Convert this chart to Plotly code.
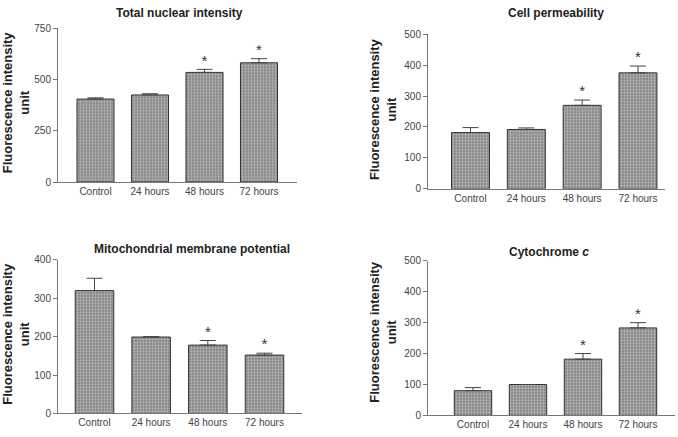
import plotly.graph_objects as go

categories = ["Control", "24 hours", "48 hours", "72 hours"]

nuclear_vals = [405, 425, 535, 582]
nuclear_err = [6, 6, 15, 20]
nuclear_sig = ["", "", "*", "*"]

perm_vals = [182, 192, 270, 375]
perm_err = [16, 5, 17, 22]
perm_sig = ["", "", "*", "*"]

mito_vals = [320, 199, 178, 152]
mito_err = [32, 1, 12, 5]
mito_sig = ["", "", "*", "*"]

cyto_vals = [80, 100, 182, 283]
cyto_err = [10, 0, 18, 17]
cyto_sig = ["", "", "*", "*"]

titles = ["Total nuclear intensity", "Cell permeability",
          "Mitochondrial membrane potential", "Cytochrome <i>c</i>"]
y_title = "Fluorescence intensity<br>unit"

W, H = 678, 437
def px(x):
    return x / W
def py(y):
    return 1 - y / H

panels = [
    dict(vals=nuclear_vals, err=nuclear_err, sig=nuclear_sig,
         xd=(58, 297), yd=(23, 181), yr=750, dt=250, xr=(-0.688, 3.697)),
    dict(vals=perm_vals, err=perm_err, sig=perm_sig,
         xd=(428, 665), yd=(29, 188), yr=500, dt=100, xr=(-0.761, 3.484)),
    dict(vals=mito_vals, err=mito_err, sig=mito_sig,
         xd=(58, 302), yd=(261, 419), yr=400, dt=100, xr=(-0.644, 3.662)),
    dict(vals=cyto_vals, err=cyto_err, sig=cyto_sig,
         xd=(428, 675), yd=(262, 421), yr=500, dt=100, xr=(-0.818, 3.673)),
]

FONT = "Liberation Sans, Arial, sans-serif"
fig = go.Figure()
axis_font = dict(family=FONT, size=10, color="#444")

for i, p in enumerate(panels):
    n = "" if i == 0 else str(i + 1)
    xa, ya = "x" + n, "y" + n
    fig.add_trace(go.Bar(
        x=categories, y=p["vals"], xaxis=xa, yaxis=ya, width=0.68,
        marker=dict(color="#888",
                    line=dict(color="#333", width=1),
                    pattern=dict(shape=".", size=3, solidity=0.5,
                                 fgcolor="#f2f2f2", bgcolor="#7a7a7a")),
        error_y=dict(type="data", symmetric=False, array=p["err"],
                     arrayminus=[0] * 4, color="#444", thickness=1, width=8),
        showlegend=False, hoverinfo="skip"))
    tops = [v + e for v, e in zip(p["vals"], p["err"])]
    fig.add_trace(go.Scatter(
        x=categories, y=tops, xaxis=xa, yaxis=ya, mode="text",
        text=p["sig"], textposition="top center",
        textfont=dict(family=FONT, size=15, color="#333"),
        showlegend=False, hoverinfo="skip"))
    fig.layout["xaxis" + n] = dict(
        domain=[px(p["xd"][0]), px(p["xd"][1])], anchor=ya,
        range=list(p["xr"]), showline=True, linecolor="#777", linewidth=1,
        ticks="", showgrid=False, zeroline=False, tickfont=axis_font, fixedrange=True)
    fig.layout["yaxis" + n] = dict(
        domain=[py(p["yd"][1]), py(p["yd"][0])], anchor=xa,
        range=[0, p["yr"]], dtick=p["dt"], tick0=0, showline=True, linecolor="#777",
        linewidth=1, ticks="outside", ticklen=4, tickcolor="#777", showgrid=False,
        zeroline=False, tickfont=axis_font, fixedrange=True)

title_pos = [(179, 7), (556, 7), (192, 250), (549, 253)]
ytitle_pos = [(16, 99), (383, 106), (16, 337), (383, 335)]
title_font = dict(family=FONT, size=12, color="#222")
for t, (tx, ty), (yx, yy) in zip(titles, title_pos, ytitle_pos):
    fig.add_annotation(text="<b>" + t + "</b>", x=px(tx), y=py(ty), xref="paper",
                       yref="paper", showarrow=False, xanchor="center", yanchor="middle",
                       font=title_font)
    fig.add_annotation(text="<b>" + y_title + "</b>", x=px(yx), y=py(yy), xref="paper",
                       yref="paper", showarrow=False, xanchor="center", yanchor="middle",
                       textangle=-90,
                       font=dict(family=FONT, size=13, color="#222"))

fig.update_layout(width=W, height=H, margin=dict(l=0, r=0, t=0, b=0),
                  plot_bgcolor="white", paper_bgcolor="white")

fig.write_html("out.html", config={"displayModeBar": False},
               post_script="document.body.style.margin='0';")
